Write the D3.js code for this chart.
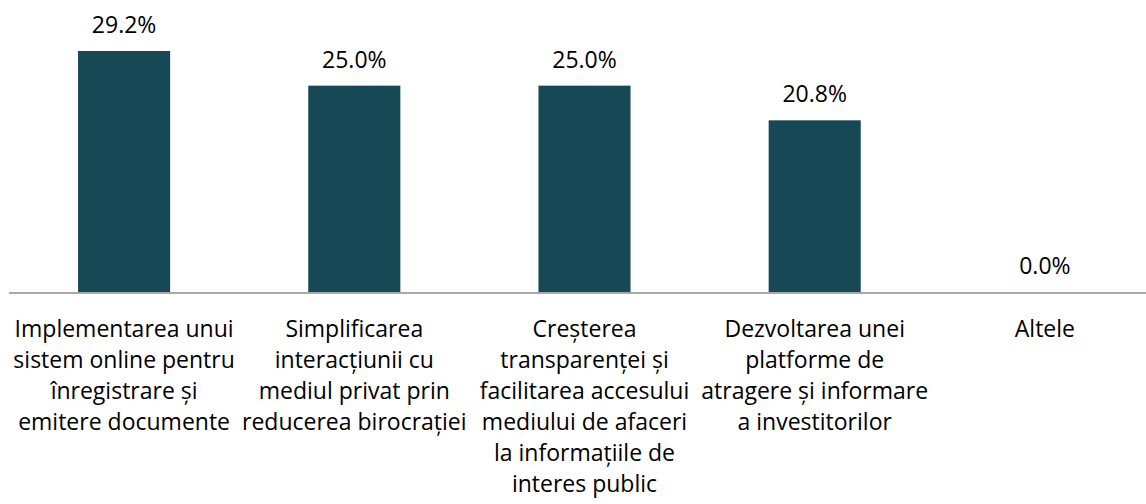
<!DOCTYPE html>
<html>
<head>
<meta charset="utf-8">
<script src="https://cdn.jsdelivr.net/npm/d3@7"></script>
<style>
  html, body { margin: 0; padding: 0; background: #fff; }
  svg { display: block; }
</style>
</head>
<body>
<svg id="chart" width="1146" height="504"></svg>
<script>
// Categories (line breaks mark how each axis label wraps)
const categories = [
  "Implementarea unui\nsistem online pentru\nînregistrare și\nemitere documente",
  "Simplificarea\ninteracțiunii cu\nmediul privat prin\nreducerea birocrației",
  "Creșterea\ntransparenței și\nfacilitarea accesului\nmediului de afaceri\nla informațiile de\ninteres public",
  "Dezvoltarea unei\nplatforme de\natragere și informare\na investitorilor",
  "Altele"
];
const values = [29.2, 25.0, 25.0, 20.8, 0.0];

const svg = d3.select("#chart");
const W = 1146;
const baseline = 292;
const fontFamily = "Open Sans";
const fontSize = 23;

const x = d3.scaleBand()
  .domain(categories)
  .range([9, 1160])
  .paddingInner(0.6)
  .paddingOuter(0.3);

const y = d3.scaleLinear()
  .domain([0, 29.2])
  .range([baseline, 51]);

// Bars
svg.append("g").selectAll("rect")
  .data(values)
  .join("rect")
  .attr("x", (d, i) => x(categories[i]))
  .attr("width", x.bandwidth())
  .attr("y", d => y(d))
  .attr("height", d => y(0) - y(d))
  .attr("fill", "#174855");

// Value labels above each bar
svg.append("g").selectAll("text")
  .data(values)
  .join("text")
  .attr("x", (d, i) => x(categories[i]) + x.bandwidth() / 2)
  .attr("y", d => y(d) - 18)
  .attr("text-anchor", "middle")
  .attr("font-family", fontFamily)
  .attr("font-size", fontSize)
  .attr("fill", "#000")
  .text(d => d.toFixed(1) + "%");

// Category axis with wrapped labels
const axis = d3.axisBottom(x).tickSize(0).tickFormat("");
const gAxis = svg.append("g")
  .attr("transform", `translate(0,${baseline})`)
  .call(axis)
  .attr("font-family", fontFamily);
gAxis.select(".domain").remove();
svg.append("line")
  .attr("x1", 9).attr("x2", W)
  .attr("y1", baseline + 1).attr("y2", baseline + 1)
  .attr("stroke", "#8c8c8c")
  .attr("stroke-width", 1.5);

gAxis.selectAll(".tick").each(function(d) {
  const t = d3.select(this).append("text")
    .attr("text-anchor", "middle")
    .attr("font-family", fontFamily)
    .attr("font-size", fontSize)
    .attr("fill", "#000");
  d.split("\n").forEach((line, k) => {
    t.append("tspan")
      .attr("x", 0)
      .attr("y", 45 + k * 31)
      .text(line);
  });
});
</script>
</body>
</html>
